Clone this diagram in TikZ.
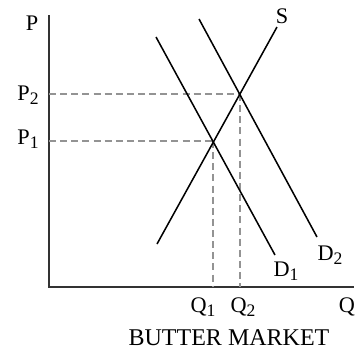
\documentclass[tikz,border=0pt]{standalone}
\usepackage{fontspec}
\setmainfont{Liberation Serif}
\usepackage{tikz}
\usetikzlibrary{positioning, calc}
\newcommand{\lowsub}[1]{\raisebox{-3.5pt}{\fontsize{15}{15}\selectfont #1}}
\tikzset{
  % Axes
  axisline/.style={line width=1.7pt, draw=black!80},
  % Supply / demand curves
  curve/.style={line width=1.3pt, draw=black},
  % Dashed guide lines
  guide/.style={draw=gray!85, line width=1.1pt, dash pattern=on 6pt off 3.5pt},
  % Labels
  axlabel/.style={font=\fontsize{19}{19}\selectfont, inner sep=0pt},
  titlelabel/.style={font=\fontsize{20.5}{20.5}\selectfont, inner sep=0pt},
}

\begin{document}
\begin{tikzpicture}[x=0.03cm, y=-0.03cm]
  \useasboundingbox (0,0) rectangle (359,354);

  % Axes
  \coordinate (origin) at (49,287);
  \coordinate (ptop) at (49,15);
  \coordinate (qend) at (354,287);
  \draw[axisline] (ptop) -- (origin) -- (qend);

  % Curve end points
  \coordinate (s0) at (157,244);
  \coordinate (s1) at (277,27);
  \coordinate (d1a) at (156,37);
  \coordinate (d1b) at (275,255);
  \coordinate (d2a) at (199,19);
  \coordinate (d2b) at (317,237);

  % Equilibria
  \coordinate (e1) at (213,141);
  \coordinate (e2) at (240,94);

  % Guides
  \draw[guide] (e2 -| origin) -- (e2);
  \draw[guide] (e1 -| origin) -- (e1);
  \draw[guide] (e1) -- (e1 |- origin);
  \draw[guide] (e2) -- (e2 |- origin);

  % Curves
  \draw[curve] (s0) -- (s1);
  \draw[curve] (d1a) -- (d1b);
  \draw[curve] (d2a) -- (d2b);

  % Labels
  \node[axlabel] (plab) at (32,23) {P};
  \node[axlabel] (p2lab) at (28,95) {P\lowsub{2}};
  \node[axlabel] (p1lab) at (28,139) {P\lowsub{1}};
  \node[axlabel] (qlab) at (347,307) {Q};
  \node[axlabel] (q1lab) at (203,307) {Q\lowsub{1}};
  \node[axlabel] (q2lab) at (243,307) {Q\lowsub{2}};
  \node[axlabel] (slab) at (282,16) {S};
  \node[axlabel] (d1lab) at (286,271) {D\lowsub{1}};
  \node[axlabel] (d2lab) at (330,255) {D\lowsub{2}};
  \node[titlelabel] (title) at (229,338) {BUTTER MARKET};
\end{tikzpicture}
\end{document}
